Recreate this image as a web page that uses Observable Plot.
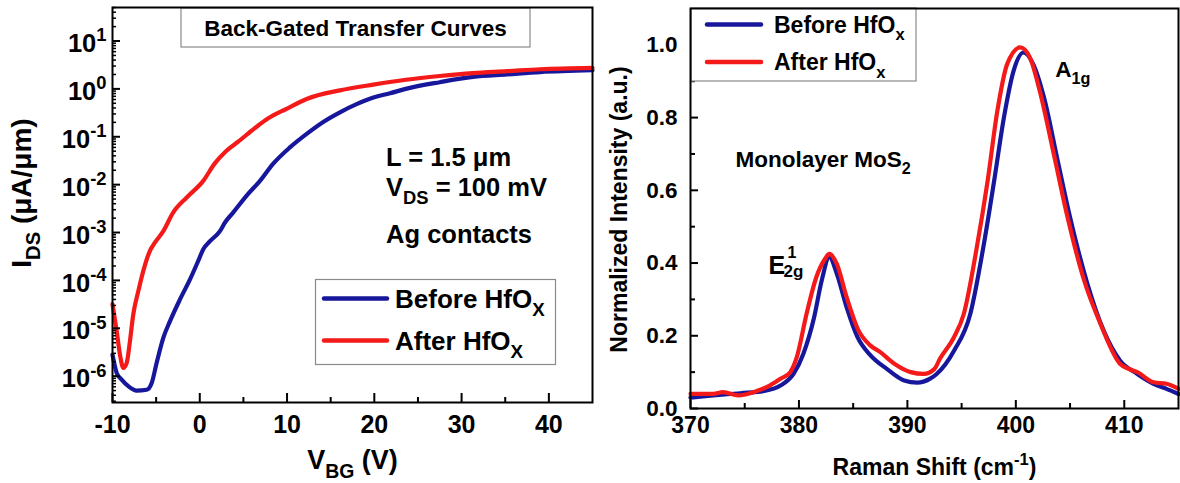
<!DOCTYPE html>
<html>
<head>
<meta charset="utf-8">
<script src="https://cdn.jsdelivr.net/npm/d3@7"></script>
<script src="https://cdn.jsdelivr.net/npm/@observablehq/plot@0.6"></script>
<style>
  html, body { margin: 0; padding: 0; background: #fff; }
  #wrap { position: relative; width: 1180px; height: 483px; overflow: hidden; background: #fff; }
  .panel { position: absolute; top: 0; }
  #L { left: 0; width: 600px; }
  #R { left: 600px; width: 580px; }
</style>
</head>
<body>
<div id="wrap"><div id="L" class="panel"></div><div id="R" class="panel"></div></div>
<script>
// ---------- series ----------
const seriesNames = ["Before HfO", "After HfO"];
const seriesColors = ["#17179c", "#f41a1a"];

// Left panel: back-gated transfer curves, I_DS (uA/um) vs V_BG (V)
const vbgBefore = [-10, -9.52, -8.95, -8.19, -7.23, -6.08, -5.51, -4.94, -4.18, -3.41, -2.27, -1.12, -0.17, 0.4, 1.17, 2.31, 2.89, 3.84, 5.37, 6.9, 8.42, 10.33, 12.25, 14.15, 16.06, 17.97, 19.9, 21.8, 23.6, 27.5, 31.3, 35.2, 39.0, 45];
const idsBefore = [2.8e-6, 1.17e-6, 8.5e-7, 6.2e-7, 5.0e-7, 5.2e-7, 7.2e-7, 1.9e-6, 6.3e-6, 1.41e-5, 4.0e-5, 1.05e-4, 2.57e-4, 4.5e-4, 6.6e-4, 1.07e-3, 1.62e-3, 2.63e-3, 5.9e-3, 1.2e-2, 2.75e-2, 6.0e-2, 0.115, 0.204, 0.324, 0.479, 0.66, 0.81, 1.0, 1.38, 1.78, 2.0, 2.24, 2.45];
const vbgAfter = [-10, -9.52, -9.14, -8.76, -8.37, -8.0, -7.62, -7.04, -6.47, -5.7, -5.13, -4.18, -3.04, -1.5, 0.4, 1.7, 3.0, 4.4, 6.3, 7.8, 10.0, 12.25, 16.06, 19.9, 23.6, 27.5, 31.3, 35.2, 39.0, 45];
const idsAfter = [3.2e-5, 8.7e-6, 2.8e-6, 1.48e-6, 1.9e-6, 5.4e-6, 1.95e-5, 6.0e-5, 1.58e-4, 4.2e-4, 6.2e-4, 1.07e-3, 2.63e-3, 5.4e-3, 1.2e-2, 2.75e-2, 5.0e-2, 7.9e-2, 0.151, 0.24, 0.389, 0.617, 0.933, 1.23, 1.55, 1.86, 2.14, 2.34, 2.57, 2.75];

// Right panel: Raman spectra, normalized intensity vs Raman shift (cm^-1)
const ramanBeforeX = [370, 372.1, 374.6, 376.8, 378.3, 379.5, 380.4, 381.4, 382.1, 382.8, 383.5, 384.4, 385.4, 386.6, 388.1, 389.7, 390.9, 392.1, 392.7, 394.3, 395.8, 397.0, 398.0, 398.9, 399.8, 400.7, 401.6, 402.6, 403.8, 405.0, 406.6, 408.1, 409.6, 411.2, 412.7, 413.9, 415];
const ramanBeforeY = [0.030, 0.036, 0.042, 0.048, 0.063, 0.095, 0.150, 0.251, 0.352, 0.416, 0.370, 0.278, 0.196, 0.146, 0.109, 0.077, 0.071, 0.082, 0.095, 0.159, 0.260, 0.443, 0.626, 0.800, 0.929, 0.979, 0.947, 0.855, 0.690, 0.526, 0.343, 0.214, 0.132, 0.095, 0.068, 0.054, 0.040];
const ramanAfterX = [370, 372.1, 373.0, 374.4, 376.1, 377.3, 378.3, 379.2, 379.8, 380.7, 381.6, 382.4, 382.8, 383.5, 384.4, 385.5, 386.6, 387.5, 388.8, 390.3, 391.5, 392.5, 393.0, 394.3, 395.2, 396.4, 397.4, 398.3, 399.2, 400.4, 401.3, 402.2, 403.5, 404.7, 406.3, 407.8, 409.6, 410.5, 411.2, 412.7, 413.9, 415];
const ramanAfterY = [0.040, 0.040, 0.045, 0.036, 0.048, 0.063, 0.082, 0.100, 0.141, 0.260, 0.361, 0.411, 0.425, 0.397, 0.306, 0.214, 0.173, 0.155, 0.123, 0.100, 0.095, 0.109, 0.137, 0.196, 0.260, 0.443, 0.626, 0.819, 0.947, 0.993, 0.965, 0.874, 0.700, 0.535, 0.352, 0.233, 0.123, 0.108, 0.100, 0.072, 0.068, 0.054];

// ---------- ticks ----------
const xTicksL = [-10, 0, 10, 20, 30, 40];
const xMinorL = [-5, 5, 15, 25, 35];
const yTicksL = [1e-6, 1e-5, 1e-4, 1e-3, 1e-2, 1e-1, 1, 10];
const xTicksR = [370, 380, 390, 400, 410];
const xMinorR = [375, 385, 395, 405];
const yTicksR = [0, 0.2, 0.4, 0.6, 0.8, 1.0];
const yMinorR = [0.1, 0.3, 0.5, 0.7, 0.9];

// ---------- texts ----------
const xTitleL = "V_{BG} (V)";
const yTitleL = "I_{DS} (μA/μm)";
const boxTitleL = "Back-Gated Transfer Curves";
const annTextL = ["L = 1.5 μm", "V_{DS} = 100 mV", "Ag contacts"];
const annXL = [21.35, 21.35, 21.35];
const annYL = [0.0361, 0.0085, 0.00090];
const xTitleR = "Raman Shift (cm^{-1})";
const yTitleR = "Normalized Intensity (a.u.)";
const annTextR = ["Monolayer MoS_{2}", "A_{1g}"];
const annXR = [374.15, 403.64];
const annYR = [0.684, 0.931];

const FONT = '"Liberation Sans", Arial, Helvetica, sans-serif';

// tables
const transfer = [
  ...vbgBefore.map((v, i) => ({v, ids: idsBefore[i], s: seriesNames[0]})),
  ...vbgAfter.map((v, i) => ({v, ids: idsAfter[i], s: seriesNames[1]}))
];
const raman = [
  ...ramanBeforeX.map((w, i) => ({w, inten: ramanBeforeY[i], s: seriesNames[0]})),
  ...ramanAfterX.map((w, i) => ({w, inten: ramanAfterY[i], s: seriesNames[1]}))
];

// ---------- left plot ----------
const LW = 600, LH = 483, LmL = 112, LmR = 8, LmT = 7, LmB = 81;
const LpW = LW - LmL - LmR, LpH = LH - LmT - LmB;
const logTicks = [];
for (let e = -7; e <= 1; e++) for (let k = 2; k <= 9; k++) logTicks.push(k * Math.pow(10, e));
const yDomL = [Math.pow(10, -6.55), Math.pow(10, 1.7)];
const yMinorL = logTicks.filter(d => d > yDomL[0] && d < yDomL[1]);

const left = Plot.plot({
  width: LW, height: LH,
  marginLeft: LmL, marginRight: LmR, marginTop: LmT, marginBottom: LmB,
  style: {fontFamily: FONT, fontWeight: "bold", fontSize: "20px", color: "#000", background: "#fff", overflow: "visible"},
  x: {domain: [-10, 45], label: null},
  y: {type: "log", domain: yDomL, label: null},
  color: {domain: seriesNames, range: seriesColors},
  marks: [
    Plot.line(transfer, {x: "v", y: "ids", z: "s", stroke: "s", strokeWidth: 4.2, curve: "monotone-x"}),
    Plot.tickX(xTicksL, {x: d => d, stroke: "#000", strokeWidth: 2, insetTop: LpH - 9}),
    Plot.tickX(xMinorL, {x: d => d, stroke: "#000", strokeWidth: 2, insetTop: LpH - 5}),
    Plot.tickY(yTicksL, {y: d => d, stroke: "#000", strokeWidth: 2, insetRight: LpW - 8}),
    Plot.tickY(yMinorL, {y: d => d, stroke: "#000", strokeWidth: 1.5, insetRight: LpW - 4}),
    Plot.axisX(xTicksL, {tickSize: 0, tickPadding: 12.5, tickFormat: d => String(d), fontSize: 25}),
    Plot.axisY(yTicksL, {tickSize: 0, tickPadding: 6, tickFormat: d => "10^{" + Math.round(Math.log10(d)) + "}", fontSize: 25.5, dy: 3}),
    Plot.text([xTitleL], {text: d => d, frameAnchor: "bottom", textAnchor: "middle", lineAnchor: "middle", dy: 58, fontSize: 27}),
    Plot.text([yTitleL], {text: d => d, frameAnchor: "left", textAnchor: "middle", lineAnchor: "middle", rotate: -90, dx: -90, dy: -12, fontSize: 28}),
    Plot.text(annTextL, {text: d => d, x: (d, i) => annXL[i], y: (d, i) => annYL[i], textAnchor: "start", lineAnchor: "middle", fontSize: 25.5}),
    Plot.frame({stroke: "#000", strokeWidth: 2})
  ]
});

// ---------- right plot ----------
const RW = 580, RH = 483, RmL = 90, RmR = 2, RmT = 8, RmB = 75;
const RpW = RW - RmL - RmR, RpH = RH - RmT - RmB;
const right = Plot.plot({
  width: RW, height: RH,
  marginLeft: RmL, marginRight: RmR, marginTop: RmT, marginBottom: RmB,
  style: {fontFamily: FONT, fontWeight: "bold", fontSize: "20px", color: "#000", background: "#fff", overflow: "visible"},
  x: {domain: [370, 415], label: null},
  y: {domain: [0, 1.1], label: null},
  color: {domain: seriesNames, range: seriesColors},
  marks: [
    Plot.line(raman, {x: "w", y: "inten", z: "s", stroke: "s", strokeWidth: 4.2, curve: "monotone-x"}),
    Plot.tickX(xTicksR, {x: d => d, stroke: "#000", strokeWidth: 2, insetTop: RpH - 8}),
    Plot.tickX(xMinorR, {x: d => d, stroke: "#000", strokeWidth: 2, insetTop: RpH - 5}),
    Plot.tickY(yTicksR, {y: d => d, stroke: "#000", strokeWidth: 2, insetRight: RpW - 8}),
    Plot.tickY(yMinorR, {y: d => d, stroke: "#000", strokeWidth: 2, insetRight: RpW - 5}),
    Plot.axisX(xTicksR, {tickSize: 0, tickPadding: 8, tickFormat: d => String(d), fontSize: 23}),
    Plot.axisY(yTicksR, {tickSize: 0, tickPadding: 13, tickFormat: d => d.toFixed(1), fontSize: 22.5}),
    Plot.text([xTitleR], {text: d => d, frameAnchor: "bottom", textAnchor: "middle", lineAnchor: "middle", dy: 59, fontSize: 23}),
    Plot.text([yTitleR], {text: d => d, frameAnchor: "left", textAnchor: "middle", lineAnchor: "middle", rotate: -90, dx: -71, dy: 1, fontSize: 23}),
    Plot.text(annTextR, {text: d => d, x: (d, i) => annXR[i], y: (d, i) => annYR[i], textAnchor: "start", lineAnchor: "middle", fontSize: 22.5}),
    // E^1_2g label: base letter, superscript and subscript placed at the peak
    Plot.text(["E"], {text: d => d, x: 377.2, y: 0.3915, textAnchor: "start", lineAnchor: "middle", fontSize: 25}),
    Plot.text(["1"], {text: d => d, x: 378.94, y: 0.4286, textAnchor: "start", lineAnchor: "middle", fontSize: 16}),
    Plot.text(["2g"], {text: d => d, x: 378.57, y: 0.376, textAnchor: "start", lineAnchor: "middle", fontSize: 17}),
    Plot.frame({stroke: "#000", strokeWidth: 2})
  ]
});

document.getElementById("L").appendChild(left);
document.getElementById("R").appendChild(right);

// ---------- legends / boxed title ----------
function addLegend(svg, o) {
  const g = d3.select(svg).append("g").attr("class", "legend").attr("text-anchor", "start");
  g.append("rect").attr("x", o.x).attr("y", o.y).attr("width", o.w).attr("height", o.h)
    .attr("fill", "#fff").attr("stroke", "#8a8a8a").attr("stroke-width", 1.2);
  seriesNames.forEach((name, i) => {
    const cy = o.rows[i];
    g.append("line").attr("x1", o.x1).attr("x2", o.x2).attr("y1", cy).attr("y2", cy)
      .attr("stroke", seriesColors[i]).attr("stroke-width", 4.5).attr("stroke-linecap", "round");
    g.append("text").attr("x", o.tx).attr("y", cy).attr("dy", "0.36em").attr("text-anchor", "start")
      .attr("font-size", o.fs).text(name + o.suffix);
  });
  return g;
}
function addBox(svg, o) {
  const g = d3.select(svg).append("g");
  g.append("rect").attr("x", o.x).attr("y", o.y).attr("width", o.w).attr("height", o.h)
    .attr("fill", "#fff").attr("stroke", "#8a8a8a").attr("stroke-width", 1.2);
  g.append("text").attr("x", o.x + o.w / 2).attr("y", o.y + o.h / 2).attr("dy", "0.36em")
    .attr("text-anchor", "middle").attr("font-size", o.fs).text(o.text);
}
addBox(left, {x: 181, y: 8, w: 349, h: 39, fs: 22.5, text: boxTitleL});
addLegend(left, {x: 315.5, y: 279.5, w: 240, h: 85, x1: 324, x2: 387, tx: 395, rows: [298.5, 340.5], fs: 26, suffix: "_{X}"});
addLegend(right, {x: 91, y: 8, w: 225, h: 73, x1: 107, x2: 161, tx: 174, rows: [24.5, 62], fs: 23, suffix: "_{x}"});

// keep frames on top
[left, right].forEach(svg => {
  const f = svg.querySelector('[aria-label="frame"]');
  if (f) svg.appendChild(f);
});

// ---------- rich text: _{sub} and ^{sup} ----------
function rich(root) {
  root.querySelectorAll("text").forEach(t => {
    const s = t.textContent;
    if (!/[_^]\{/.test(s)) return;
    const fs = parseFloat(getComputedStyle(t).fontSize) || 20;
    while (t.firstChild) t.removeChild(t.firstChild);
    const re = /([_^])\{([^}]*)\}/g;
    let last = 0, m, off = 0;
    const add = (txt, target, small) => {
      if (!txt) return;
      const ts = document.createElementNS("http://www.w3.org/2000/svg", "tspan");
      const dy = target - off;
      if (dy) ts.setAttribute("dy", dy.toFixed(2));
      if (small) ts.setAttribute("font-size", (fs * 0.72).toFixed(2));
      ts.textContent = txt;
      t.appendChild(ts);
      off = target;
    };
    while ((m = re.exec(s))) {
      add(s.slice(last, m.index), 0, false);
      add(m[2], m[1] === "_" ? fs * 0.32 : -fs * 0.42, true);
      last = re.lastIndex;
    }
    add(s.slice(last), 0, false);
  });
}
rich(left);
rich(right);
</script>
</body>
</html>
